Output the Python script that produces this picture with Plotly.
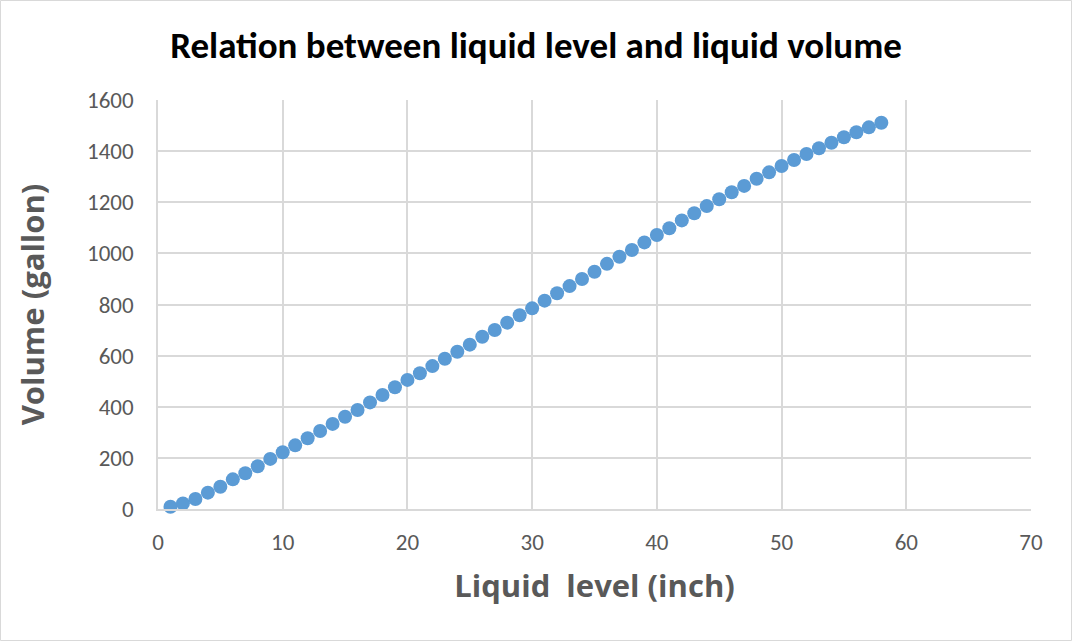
import plotly.graph_objects as go

level_inch = list(range(1, 59))
volume_gallon = [9, 22, 39, 64, 87, 116, 140, 167, 196, 222,
                 249, 277, 305, 333, 361, 387, 417, 446, 476, 505,
                 531, 559, 588, 615, 643, 674, 700, 729, 758, 785,
                 815, 844, 872, 900, 928, 959, 987, 1013, 1043, 1072,
                 1098, 1129, 1157, 1185, 1212, 1239, 1264, 1292, 1317, 1342,
                 1365, 1389, 1411, 1433, 1454, 1474, 1493, 1511]
x_ticks = [0, 10, 20, 30, 40, 50, 60, 70]
y_ticks = [0, 200, 400, 600, 800, 1000, 1200, 1400, 1600]

W, H = 1072, 641
L, R, T, B = 158, 41, 100, 132
pw, ph = W - L - R, H - T - B

CAL = "Carlito, Calibri, sans-serif"
WIDE = "'Open Sans', 'Segoe UI', sans-serif"
GRAY = "#595959"
GRID = "#D9D9D9"

fig = go.Figure(go.Scatter(
    x=level_inch, y=volume_gallon, mode="markers",
    marker=dict(size=14, color="#5B9BD5"),
    cliponaxis=False, showlegend=False,
))

fig.update_layout(
    width=W, height=H,
    margin=dict(l=L, r=R, t=T, b=B, autoexpand=False),
    paper_bgcolor="white", plot_bgcolor="white",
    font=dict(family=CAL, color=GRAY),
    title=dict(text="<b>Relation between liquid level and liquid volume</b>",
               x=0.5, xanchor="center", y=1 - 45 / H, yanchor="middle",
               font=dict(size=37, color="black", family=CAL)),
    xaxis=dict(range=[0, 70], tickvals=x_ticks, showgrid=True, gridcolor=GRID, gridwidth=1.5,
               zeroline=False, showline=True, linecolor=GRID, linewidth=1.5,
               ticks="", tickfont=dict(size=23, color=GRAY, family=CAL), ticklabelstandoff=12,
               title=dict(text="<b>Liquid&nbsp; level (inch)</b>",
                          font=dict(size=31, color=GRAY, family=WIDE), standoff=20)),
    yaxis=dict(range=[0, 1600], tickvals=y_ticks, showgrid=True, gridcolor=GRID, gridwidth=1.5,
               zeroline=False, showline=True, linecolor=GRID, linewidth=1.5,
               ticks="", tickfont=dict(size=23, color=GRAY, family=CAL), ticklabelstandoff=18,
               title=dict(text="<b>Volume (gallon)</b>",
                          font=dict(size=31, color=GRAY, family=WIDE), standoff=33)),
    shapes=[dict(type="rect", xref="paper", yref="paper",
                 x0=-L / pw + 0.5 / pw, x1=1 + (R - 0.5) / pw,
                 y0=-B / ph + 0.5 / ph, y1=1 + (T - 0.5) / ph,
                 line=dict(color=GRID, width=1), layer="below")],
)

fig.write_html("out.html", config={"displayModeBar": False},
               post_script="document.body.style.margin='0';document.body.style.overflow='hidden';")
